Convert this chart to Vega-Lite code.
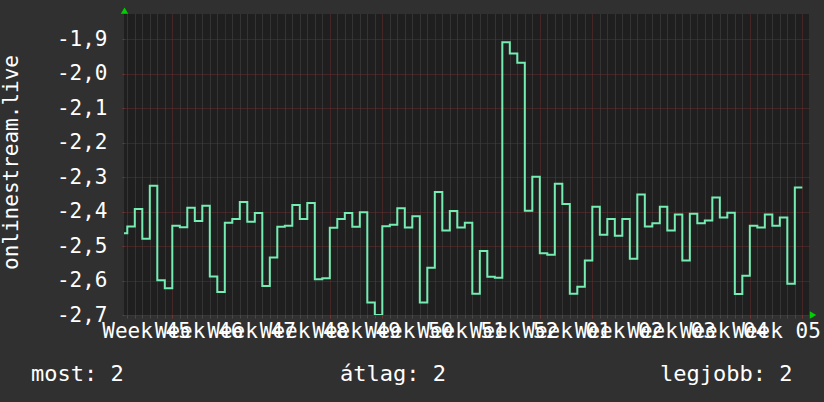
{
  "$schema": "https://vega.github.io/schema/vega-lite/v6.json",
  "width": 685,
  "height": 301,
  "autosize": {"type": "none"},
  "padding": {"left": 124, "top": 14, "right": 15, "bottom": 87},
  "background": "#303030",
  "config": {"view": {"fill": "#1f1f1f", "stroke": null}, "font": "DejaVu Sans Mono"},
  "resolve": {"axis": {"x": "independent", "y": "independent"}},
  "datasets": {
    "series": [
      {"day": 0, "value": -2.463}, {"day": 1, "value": -2.443}, {"day": 2, "value": -2.392}, {"day": 3, "value": -2.479},
      {"day": 4, "value": -2.325}, {"day": 5, "value": -2.599}, {"day": 6, "value": -2.622}, {"day": 7, "value": -2.441},
      {"day": 8, "value": -2.445}, {"day": 9, "value": -2.389}, {"day": 10, "value": -2.427}, {"day": 11, "value": -2.383},
      {"day": 12, "value": -2.588}, {"day": 13, "value": -2.633}, {"day": 14, "value": -2.432}, {"day": 15, "value": -2.421},
      {"day": 16, "value": -2.372}, {"day": 17, "value": -2.429}, {"day": 18, "value": -2.404}, {"day": 19, "value": -2.616},
      {"day": 20, "value": -2.533}, {"day": 21, "value": -2.444}, {"day": 22, "value": -2.441}, {"day": 23, "value": -2.381},
      {"day": 24, "value": -2.421}, {"day": 25, "value": -2.375}, {"day": 26, "value": -2.596}, {"day": 27, "value": -2.593},
      {"day": 28, "value": -2.447}, {"day": 29, "value": -2.421}, {"day": 30, "value": -2.404}, {"day": 31, "value": -2.444},
      {"day": 32, "value": -2.402}, {"day": 33, "value": -2.664}, {"day": 34, "value": -2.700}, {"day": 35, "value": -2.442},
      {"day": 36, "value": -2.438}, {"day": 37, "value": -2.390}, {"day": 38, "value": -2.446}, {"day": 39, "value": -2.413},
      {"day": 40, "value": -2.664}, {"day": 41, "value": -2.563}, {"day": 42, "value": -2.343}, {"day": 43, "value": -2.455},
      {"day": 44, "value": -2.398}, {"day": 45, "value": -2.446}, {"day": 46, "value": -2.432}, {"day": 47, "value": -2.638},
      {"day": 48, "value": -2.514}, {"day": 49, "value": -2.589}, {"day": 50, "value": -2.592}, {"day": 51, "value": -1.908},
      {"day": 52, "value": -1.941}, {"day": 53, "value": -1.968}, {"day": 54, "value": -2.397}, {"day": 55, "value": -2.299},
      {"day": 56, "value": -2.521}, {"day": 57, "value": -2.525}, {"day": 58, "value": -2.319}, {"day": 59, "value": -2.378},
      {"day": 60, "value": -2.638}, {"day": 61, "value": -2.618}, {"day": 62, "value": -2.542}, {"day": 63, "value": -2.386},
      {"day": 64, "value": -2.467}, {"day": 65, "value": -2.421}, {"day": 66, "value": -2.470}, {"day": 67, "value": -2.421},
      {"day": 68, "value": -2.537}, {"day": 69, "value": -2.350}, {"day": 70, "value": -2.443}, {"day": 71, "value": -2.434},
      {"day": 72, "value": -2.386}, {"day": 73, "value": -2.455}, {"day": 74, "value": -2.408}, {"day": 75, "value": -2.542},
      {"day": 76, "value": -2.406}, {"day": 77, "value": -2.434}, {"day": 78, "value": -2.426}, {"day": 79, "value": -2.359},
      {"day": 80, "value": -2.417}, {"day": 81, "value": -2.403}, {"day": 82, "value": -2.639}, {"day": 83, "value": -2.586},
      {"day": 84, "value": -2.441}, {"day": 85, "value": -2.446}, {"day": 86, "value": -2.408}, {"day": 87, "value": -2.441},
      {"day": 88, "value": -2.417}, {"day": 89, "value": -2.609}, {"day": 90, "value": -2.330}, {"day": 91, "value": -2.330}
    ],
    "stats": [
      {"stat": "most", "value": 2},
      {"stat": "átlag", "value": 2},
      {"stat": "legjobb", "value": 2}
    ]
  },
  "layer": [
    {
      "data": {"name": "series"},
      "mark": {"type": "line", "interpolate": "step-after", "color": "#74ecb2", "strokeWidth": 2, "clip": true},
      "encoding": {
        "x": {
          "field": "day", "type": "quantitative", "title": null,
          "scale": {"domain": [0.56, 91.89], "nice": false, "zero": false},
          "axis": {
            "values": [1,2,3,4,5,6,7,8,9,10,11,12,13,14,15,16,17,18,19,20,21,22,23,24,25,26,27,28,29,30,31,32,33,34,35,36,37,38,39,40,41,42,43,44,45,46,47,48,49,50,51,52,53,54,55,56,57,58,59,60,61,62,63,64,65,66,67,68,69,70,71,72,73,74,75,76,77,78,79,80,81,82,83,84,85,86,87,88,89,90,91],
            "grid": true,
            "gridColor": {"condition": {"test": "datum.value % 7 === 0", "value": "#6a2f2f"}, "value": "#4a4a4a"},
            "gridDash": [1, 1],
            "gridOpacity": 1,
            "tickColor": {"condition": {"test": "datum.value % 7 === 0", "value": "#7a3434"}, "value": "#4a4a4a"},
            "tickSize": 3,
            "domain": false,
            "labelExpr": "datum.value % 7 === 0 ? 'Week ' + ['45','46','47','48','49','50','51','52','01','02','03','04','05'][datum.value / 7 - 1] : ''",
            "labelOffset": -26.25,
            "labelOverlap": false,
            "labelBound": false,
            "labelFlush": false,
            "labelFont": "DejaVu Sans Mono",
            "labelFontSize": 21,
            "labelColor": "#ffffff",
            "labelBaseline": "alphabetic",
            "labelPadding": 19,
            "title": null
          }
        },
        "y": {
          "field": "value", "type": "quantitative", "title": "onlinestream.live",
          "scale": {"domain": [-2.7, -1.8262], "nice": false, "zero": false},
          "axis": {
            "values": [-2.7, -2.6, -2.5, -2.4, -2.3, -2.2, -2.1, -2.0, -1.9],
            "labelExpr": "(datum.value < 0 ? '-' : '') + replace(format(abs(datum.value), '.1f'), '.', ',')",
            "labelOverlap": false,
            "labelFont": "DejaVu Sans Mono",
            "labelFontSize": 21,
            "labelColor": "#ffffff",
            "labelPadding": 15,
            "tickSize": 2,
            "tickColor": "#7a3434",
            "grid": true,
            "gridColor": "#6a2f2f",
            "gridDash": [1, 1],
            "gridOpacity": 1,
            "domain": false,
            "title": "onlinestream.live",
            "titleFont": "DejaVu Sans Mono",
            "titleFontSize": 21,
            "titleFontWeight": "normal",
            "titleColor": "#ffffff",
            "titleAngle": 270,
            "titleBaseline": "alphabetic",
            "titleAlign": "center",
            "titleX": -106.5,
            "titleY": 148
          }
        }
      }
    },
    {
      "data": {"name": "stats"},
      "transform": [{"filter": "datum.stat === 'most'"}, {"calculate": "datum.stat + ': ' + datum.value", "as": "label"}],
      "mark": {"type": "text", "align": "left", "baseline": "alphabetic", "fontSize": 22, "font": "DejaVu Sans Mono", "color": "#ffffff"},
      "encoding": {
        "x": {"datum": -11.84, "type": "quantitative", "axis": null},
        "y": {"datum": -2.8915, "type": "quantitative", "axis": null},
        "text": {"field": "label"}
      }
    },
    {
      "data": {"name": "stats"},
      "transform": [{"filter": "datum.stat === 'átlag'"}, {"calculate": "datum.stat + ': ' + datum.value", "as": "label"}],
      "mark": {"type": "text", "align": "left", "baseline": "alphabetic", "fontSize": 22, "font": "DejaVu Sans Mono", "color": "#ffffff"},
      "encoding": {
        "x": {"datum": 29.36, "type": "quantitative", "axis": null},
        "y": {"datum": -2.8915, "type": "quantitative", "axis": null},
        "text": {"field": "label"}
      }
    },
    {
      "data": {"name": "stats"},
      "transform": [{"filter": "datum.stat === 'legjobb'"}, {"calculate": "datum.stat + ': ' + datum.value", "as": "label"}],
      "mark": {"type": "text", "align": "left", "baseline": "alphabetic", "fontSize": 22, "font": "DejaVu Sans Mono", "color": "#ffffff"},
      "encoding": {
        "x": {"datum": 72.03, "type": "quantitative", "axis": null},
        "y": {"datum": -2.8915, "type": "quantitative", "axis": null},
        "text": {"field": "label"}
      }
    },
    {
      "data": {"values": [{}]},
      "mark": {"type": "point", "shape": "triangle-up", "filled": true, "size": 55, "color": "#00d000", "opacity": 1},
      "encoding": {
        "x": {"datum": 0.63, "type": "quantitative", "axis": null},
        "y": {"datum": -1.8163, "type": "quantitative", "axis": null}
      }
    },
    {
      "data": {"values": [{}]},
      "mark": {"type": "point", "shape": "triangle-right", "filled": true, "size": 55, "color": "#00d000", "opacity": 1},
      "encoding": {
        "x": {"datum": 92.43, "type": "quantitative", "axis": null},
        "y": {"datum": -2.7, "type": "quantitative", "axis": null}
      }
    }
  ]
}
